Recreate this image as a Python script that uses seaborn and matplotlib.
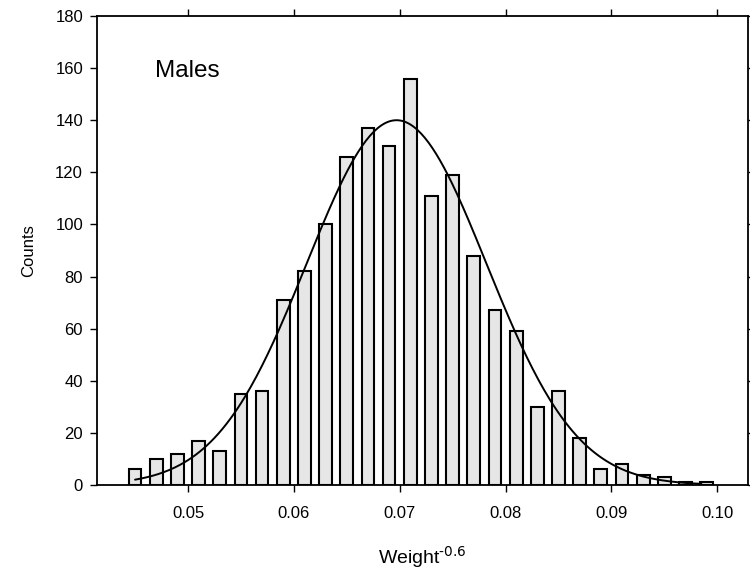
import numpy as np
import pandas as pd
import matplotlib
matplotlib.use("Agg")
import matplotlib.pyplot as plt
import seaborn as sns

# Data
bin_centers = [0.045, 0.047, 0.049, 0.051, 0.053, 0.055, 0.057, 0.059, 0.061,
               0.063, 0.065, 0.067, 0.069, 0.071, 0.073, 0.075, 0.077, 0.079,
               0.081, 0.083, 0.085, 0.087, 0.089, 0.091, 0.093, 0.095, 0.097,
               0.099]
counts = [6, 10, 12, 17, 13, 35, 36, 71, 82,
          100, 126, 137, 130, 156, 111, 119, 88, 67,
          59, 30, 36, 18, 6, 8, 4, 3, 1,
          1]
bin_width = 0.002

# Fitted normal curve parameters
fit_mean = 0.0697
fit_sigma = 0.0085
fit_peak = 140
curve_range = [0.045, 0.0985]

x_ticks = [0.05, 0.06, 0.07, 0.08, 0.09, 0.10]
x_ticklabels = ["0.05", "0.06", "0.07", "0.08", "0.09", "0.10"]
y_ticks = [0, 20, 40, 60, 80, 100, 120, 140, 160, 180]

sns.set_style("ticks", {"text.color": "black", "axes.labelcolor": "black",
                        "xtick.color": "black", "ytick.color": "black",
                        "axes.edgecolor": "black"})
plt.rcParams['font.family'] = ['Liberation Sans', 'DejaVu Sans']

fig = plt.figure(figsize=(7.5, 5.71), dpi=100)
ax = fig.add_axes([0.1293, 0.1506, 0.868, 0.8214])

df = pd.DataFrame({"w": bin_centers, "n": counts})
sns.barplot(data=df, x="w", y="n", native_scale=True, width=0.6,
            color="#e6e6e6", edgecolor="black", linewidth=1.5,
            saturation=1, ax=ax)

xc = np.linspace(curve_range[0], curve_range[1], 300)
yc = fit_peak * np.exp(-0.5 * ((xc - fit_mean) / fit_sigma) ** 2)
sns.lineplot(x=xc, y=yc, color="black", linewidth=1.4, ax=ax)

ax.set_xlim(0.0414, 0.1029)
ax.set_ylim(0, 180)
ax.set_xticks(x_ticks)
ax.set_xticklabels(x_ticklabels)
ax.set_yticks(y_ticks)
ax.tick_params(axis="both", direction="out", length=5, width=1.0,
               labelsize=12, top=True, right=True, labeltop=False,
               labelright=False, colors="black")
ax.tick_params(axis="x", pad=10)
ax.tick_params(axis="y", pad=5)
for s in ax.spines.values():
    s.set_visible(True)
    s.set_linewidth(1.3)
    s.set_color("black")

ax.set_xlabel("Weight$^{\\text{-0.6}}$", fontsize=14, labelpad=17,
              color="black")
ax.set_ylabel("Counts", fontsize=12, labelpad=14, color="black")
ax.text(0.0469, 159, "Males", fontsize=17.5, ha="left", va="center",
        color="black")

fig.savefig("out.png", dpi=100)
